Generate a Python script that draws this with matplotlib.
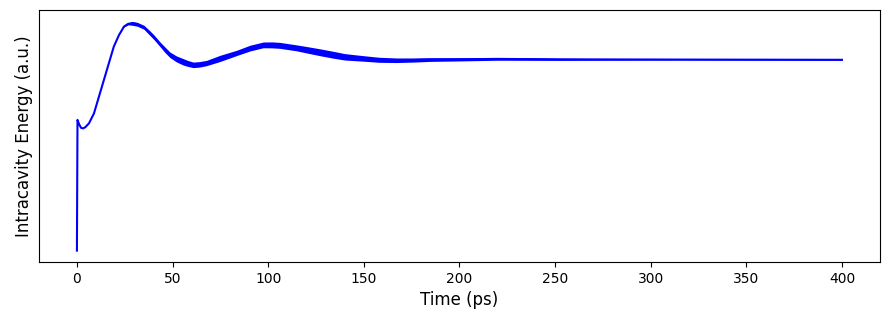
import matplotlib
matplotlib.use("Agg")
import matplotlib.pyplot as plt
import numpy as np

# time axis (ps) and intracavity energy (a.u.)
time = [0, 0.3, 1.2, 2.2, 3.3, 4.5, 6.3, 8.9, 11.5, 14.1, 16.7, 19.3, 22, 24.6,
        26.8, 28.9, 31.5, 35, 38.2, 40.3, 43.4, 46, 48.6, 52, 55.6, 58, 60.8,
        64, 67.8, 74.8, 83.5, 90.5, 97.4, 102, 106, 114.9, 120, 127, 134, 140,
        149.7, 158, 167, 176, 184.6, 200, 219.5, 252.5, 315, 400]
energy = [0.000, 0.570, 0.550, 0.535, 0.533, 0.539, 0.555, 0.598, 0.671, 0.744,
          0.817, 0.890, 0.940, 0.977, 0.989, 0.991, 0.987, 0.974, 0.948, 0.930,
          0.900, 0.876, 0.854, 0.836, 0.823, 0.816, 0.810, 0.812, 0.818, 0.838,
          0.862, 0.883, 0.897, 0.897, 0.895, 0.884, 0.876, 0.865, 0.854, 0.845,
          0.838, 0.832, 0.830, 0.831, 0.833, 0.834, 0.836, 0.834, 0.833, 0.832]
# peak-to-peak size of the fast ripple on top of the slow trace
ripple = [0, 0, 0, 0, 0, 0, 0, 0, 0, 0, 0, 0, 0, 0.004,
          0.009, 0.017, 0.017, 0.017, 0.020, 0.020, 0.020, 0.024, 0.024, 0.026,
          0.028, 0.026, 0.024, 0.024, 0.023, 0.027, 0.023, 0.025, 0.025, 0.026,
          0.026, 0.026, 0.028, 0.030, 0.030, 0.028, 0.024, 0.022, 0.020, 0.018,
          0.016, 0.014, 0.012, 0.009, 0.004, 0.004]

t = np.array(time)
e = np.array(energy)
r = np.array(ripple)

fig = plt.figure(figsize=(8.89, 3.2), dpi=100)
ax = fig.add_axes([0.0435, 0.181, 0.9466, 0.788])

ax.fill_between(t, e - r / 2, e + r / 2, color="blue", linewidth=0)
ax.plot(t, e, color="blue", linewidth=1.5)

ax.set_xlabel("Time (ps)", fontsize=12)
ax.set_ylabel("Intracavity Energy (a.u.)", fontsize=12)
ax.set_yticks([])

fig.savefig("out.png", dpi=100)
